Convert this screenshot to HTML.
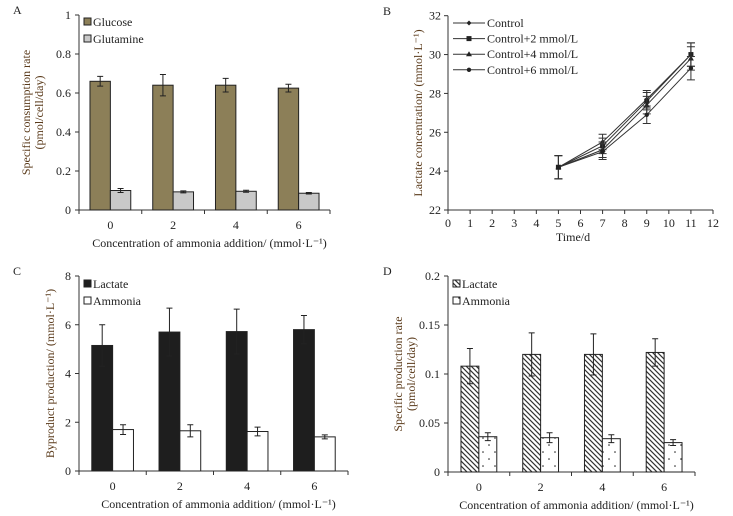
<!DOCTYPE html>
<html><head><meta charset="utf-8"><style>
body{margin:0;background:#fff;}
svg{display:block;font-family:"Liberation Serif",serif;}
</style></head><body>
<svg id="fig" width="733" height="516" viewBox="0 0 733 516" xmlns="http://www.w3.org/2000/svg">
<defs>
<pattern id="hatch" patternUnits="userSpaceOnUse" width="5" height="5"><rect width="5" height="5" fill="#fff"/><path d="M-1,-1 L6,6 M-1,4 L1,6 M4,-1 L6,1" stroke="#333" stroke-width="1.2"/></pattern>
<pattern id="dots" patternUnits="userSpaceOnUse" width="12" height="14"><rect width="12" height="14" fill="#fff"/><circle cx="3" cy="4" r="0.8" fill="#222"/><circle cx="9" cy="11" r="0.8" fill="#222"/></pattern>
</defs>
</svg>
<script>
const cats=['0','2','4','6'];
const aGlucose=[0.66,0.64,0.64,0.625];
const aGlucoseErr=[0.025,0.055,0.035,0.02];
const aGlutamine=[0.10,0.093,0.096,0.086];
const aGlutamineErr=[0.01,0.005,0.005,0.004];
const aTicks=['0','0.2','0.4','0.6','0.8','1'];
const cLactate=[5.15,5.7,5.72,5.8];
const cLactateErr=[0.85,0.98,0.92,0.58];
const cAmmonia=[1.7,1.65,1.62,1.4];
const cAmmoniaErr=[0.2,0.25,0.18,0.08];
const cTicks=['0','2','4','6','8'];
const dLactate=[0.108,0.12,0.12,0.122];
const dLactateErr=[0.018,0.022,0.021,0.014];
const dAmmonia=[0.036,0.035,0.034,0.030];
const dAmmoniaErr=[0.004,0.005,0.004,0.003];
const dTicks=['0','0.05','0.1','0.15','0.2'];
const bDays=[5,7,9,11];
const bControl=[24.2,25.5,27.7,30.0];
const bPlus2=[24.2,25.3,27.6,30.0];
const bPlus4=[24.2,25.1,27.4,29.8];
const bPlus6=[24.2,25.0,26.9,29.3];
const bErr=[0.6,0.4,0.45,0.6];
const bYTicks=['22','24','26','28','30','32'];
const bXTicks=['0','1','2','3','4','5','6','7','8','9','10','11','12'];

const svg=document.getElementById('fig');
const NS='http://www.w3.org/2000/svg';
function el(tag,attrs,parent){const e=document.createElementNS(NS,tag);for(const k in attrs)e.setAttribute(k,attrs[k]);(parent||svg).appendChild(e);return e;}
function txt(s,x,y,size,anchor,parent,fill){const t=el('text',{x:x,y:y,'font-size':size,'text-anchor':anchor||'start',fill:fill||'#222'},parent);t.textContent=s;return t;}

function barPanel(o){
  const g=el('g',{});
  
  
  const ymax=parseFloat(o.ticks[o.ticks.length-1]);
  const Y=v=>o.y0-(v/ymax)*(o.y0-o.y1);
  const cw=(o.x1-o.x0)/cats.length;
  const X=i=>o.x0+cw*(i+0.5);
  // axes
  const ax=el('line',{x1:o.x0,y1:o.y1,x2:o.x0,y2:o.y0,stroke:'#333','stroke-width':1},g);
  
  const bx=el('line',{x1:o.x0,y1:o.y0,x2:o.x1,y2:o.y0,stroke:'#333','stroke-width':1},g);
  
  o.ticks.forEach(t=>{const y=Y(parseFloat(t));el('line',{x1:o.x0-4,y1:y,x2:o.x0,y2:y,stroke:'#333'},g);
    const l=txt(t,o.x0-8,y+4,12,'end',g);});
  for(let i=0;i<=cats.length;i++){const x=o.x0+cw*i;el('line',{x1:x,y1:o.y0,x2:x,y2:o.y0+4,stroke:'#333'},g);}
  cats.forEach((c,i)=>{const l=txt(c,X(i),o.y0+19,12,'middle',g);});
  const bw=cw*o.frac/2;
  [[o.s1,o.e1,o.f1,0],[o.s2,o.e2,o.f2,1]].forEach(([s,e,f,k])=>{
    s.forEach((v,i)=>{const x=X(i)-bw+k*bw;
      const r=el('rect',{x:x,y:Y(v),width:bw,height:o.y0-Y(v),fill:f,stroke:'#222','stroke-width':1},g);
      
      const cx=x+bw/2,t=Y(v+e[i]),b=Y(v-e[i]);
      el('path',{d:`M${cx},${t}V${b}M${cx-3},${t}H${cx+3}M${cx-3},${b}H${cx+3}`,stroke:'#222','stroke-width':1,fill:'none'},g);
    });
  });
  o.names.forEach((n,k)=>{const lg=el('g',{},g);
    const ly=o.ly+k*17;el('rect',{x:o.x0+5,y:ly-8,width:7,height:7,fill:[o.f1,o.f2][k],stroke:'#222'},lg);txt(n,o.x0+14,ly,12,'start',lg);});
  const xt=txt(o.xtitle,(o.x0+o.x1)/2+5,o.y0+37,12,'middle',g);
  o.ytitle.forEach((s,k)=>{const cx=o.ytx+k*13,cy=(o.y0+o.y1)/2;const t=txt(s,cx,cy,12,'middle',g,'#5a3a1a');t.setAttribute('transform',`rotate(-90 ${cx} ${cy})`);});
  const pl=txt(o.label,o.lx,o.y1-1,12,'start',g);
}
const xT='Concentration of ammonia addition/ (mmol·L⁻¹)';
barPanel({name:'panel-a',x0:79,x1:330,y0:210,y1:15,ticks:aTicks,s1:aGlucose,e1:aGlucoseErr,s2:aGlutamine,e2:aGlutamineErr,f1:'#8c7f58',f2:'#c9c9c9',frac:0.65,names:['Glucose','Glutamine'],ly:26,xtitle:xT,ytitle:['Specific consumption rate','(pmol/cell/day)'],ytx:30,label:'A',lx:13});
barPanel({name:'panel-c',x0:79,x1:348,y0:471,y1:276,ticks:cTicks,s1:cLactate,e1:cLactateErr,s2:cAmmonia,e2:cAmmoniaErr,f1:'#1e1e1e',f2:'#fff',frac:0.62,names:['Lactate','Ammonia'],ly:288,xtitle:xT,ytitle:['Byproduct production/ (mmol·L⁻¹)'],ytx:54,label:'C',lx:13});
barPanel({name:'panel-d',x0:448,x1:695,y0:472,y1:276,ticks:dTicks,s1:dLactate,e1:dLactateErr,s2:dAmmonia,e2:dAmmoniaErr,f1:'url(#hatch)',f2:'url(#dots)',frac:0.58,names:['Lactate','Ammonia'],ly:288,xtitle:xT,ytitle:['Specific production rate','(pmol/cell/day)'],ytx:402,label:'D',lx:383});

// Panel B
(function(){
  const g=el('g',{});
  
  
  const x0=448,x1=713,y0=210,y1=15.7;
  const X=d=>x0+(d/12)*(x1-x0);
  const Y=v=>y0-(v-22)/10*(y0-y1);
  const ax=el('line',{x1:x0,y1:y1,x2:x0,y2:y0,stroke:'#333'},g);
  const bx=el('line',{x1:x0,y1:y0,x2:x1,y2:y0,stroke:'#333'},g);
  bYTicks.forEach(t=>{const y=Y(+t);el('line',{x1:x0-4,y1:y,x2:x0,y2:y,stroke:'#333'},g);const l=txt(t,x0-7,y+4,12,'end',g);});
  bXTicks.forEach(t=>{const x=X(+t);el('line',{x1:x,y1:y0,x2:x,y2:y0+4,stroke:'#333'},g);const l=txt(t,x,y0+17,12,'middle',g);});
  const series=[['Control',bControl,'diamond'],['Control+2 mmol/L',bPlus2,'square'],['Control+4 mmol/L',bPlus4,'triangle'],['Control+6 mmol/L',bPlus6,'circle']];
  function mark(shape,x,y,p){
    if(shape==='square')return el('rect',{x:x-2.5,y:y-2.5,width:5,height:5,fill:'#222'},p);
    if(shape==='triangle')return el('path',{d:`M${x},${y-3}L${x+3},${y+2}L${x-3},${y+2}Z`,fill:'#222'},p);
    if(shape==='diamond')return el('path',{d:`M${x},${y-2.5}L${x+2.5},${y}L${x},${y+2.5}L${x-2.5},${y}Z`,fill:'#222'},p);
    return el('circle',{cx:x,cy:y,r:2.2,fill:'#222'},p);
  }
  series.forEach(([n,vals,shape],k)=>{
    const sg=el('g',{},g);
    el('polyline',{points:vals.map((v,i)=>X(bDays[i])+','+Y(v)).join(' '),fill:'none',stroke:'#333','stroke-width':1},sg);
    vals.forEach((v,i)=>{const x=X(bDays[i]),t=Y(v+bErr[i]),b=Y(v-bErr[i]);
      el('path',{d:`M${x},${t}V${b}M${x-4},${t}H${x+4}M${x-4},${b}H${x+4}`,stroke:'#333','stroke-width':1,fill:'none'},sg);
      const m=mark(shape,x,Y(v),sg);});
    const lg=el('g',{},g);
    const ly=23+k*15.6;el('line',{x1:453,y1:ly,x2:485,y2:ly,stroke:'#333'},lg);mark(shape,469,ly,lg);txt(n,487,ly+4,12,'start',lg);
  });
  const xt=txt('Time/d',573,241,12,'middle',g);
  const cx=422,cy=113;const t=txt('Lactate concentration/ (mmol·L⁻¹)',cx,cy,12,'middle',g,'#5a3a1a');t.setAttribute('transform',`rotate(-90 ${cx} ${cy})`);
  const pl=txt('B',383,15,12,'start',g);
})();
</script>
</body></html>
